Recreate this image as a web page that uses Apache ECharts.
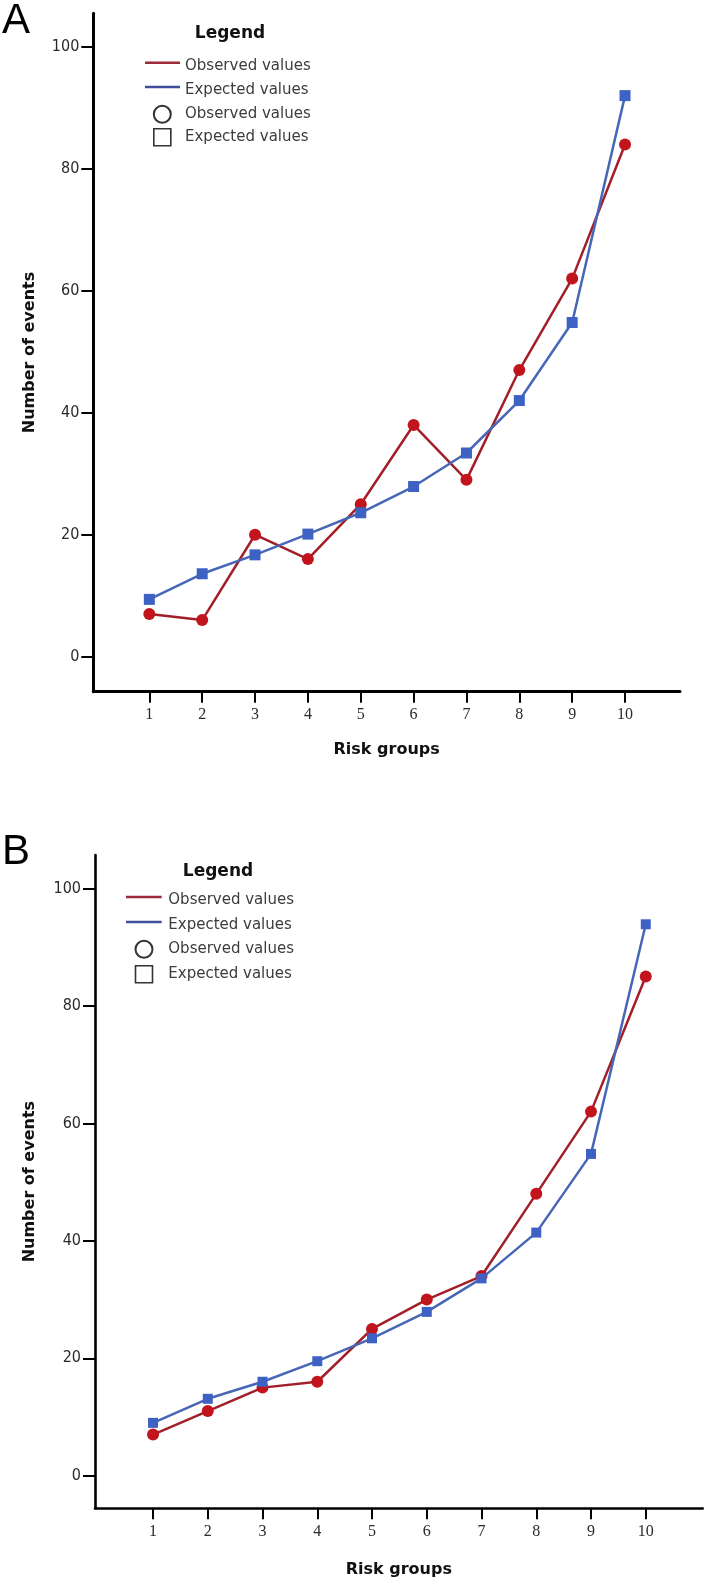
<!DOCTYPE html>
<html>
<head>
<meta charset="utf-8">
<script src="https://cdn.jsdelivr.net/npm/echarts@6/dist/echarts.min.js"></script>
<style>
html,body{margin:0;padding:0;background:#fff;}
#chart{width:714px;height:1588px;}
</style>
</head>
<body>
<div id="chart"></div>
<script>
const categories = [1, 2, 3, 4, 5, 6, 7, 8, 9, 10];
const observedA = [7, 6, 20, 16, 25, 38, 29, 47, 62, 84];
const expectedA = [9.4, 13.6, 16.7, 20.1, 23.6, 27.9, 33.4, 42, 54.8, 92];
const observedB = [7, 11, 15, 16, 25, 30, 34, 48, 62, 85];
const expectedB = [9, 13.1, 16, 19.5, 23.4, 27.9, 33.6, 41.4, 54.8, 93.9];
const yTicks = [0, 20, 40, 60, 80, 100];
const legendLabels = ['Observed values', 'Expected values', 'Observed values', 'Expected values'];

const RED_LINE = '#a21f2a', RED_MARK = '#c1141d';
const BLUE_LINE = '#4767b6', BLUE_MARK = '#3e62c3';
const LEG_RED = '#9b2b38', LEG_BLUE = '#3f4f9c';

const chart = echarts.init(document.getElementById('chart'), null, {renderer: 'canvas'});

function pairs(vals) { return categories.map((c, i) => [c, vals[i]]); }

function xAxisDef(gi, nameGap, lw) {
  return {
    type: 'value', gridIndex: gi, min: -0.06, max: 11.04,
    name: 'Risk groups', nameLocation: 'middle', nameGap: nameGap,
    nameTextStyle: {fontFamily: 'DejaVu Sans', fontWeight: 'bold', fontSize: 16, color: '#111'},
    axisLine: {show: true, onZero: false, lineStyle: {color: '#000', width: lw}},
    axisTick: {show: true, length: 11, customValues: categories, lineStyle: {color: '#000', width: 2}},
    axisLabel: {customValues: categories, margin: 15, fontFamily: 'Liberation Serif', fontSize: 16, color: '#2a2a2a'},
    splitLine: {show: false}
  };
}
function yAxisDef(gi, min, max, nameGap, lw) {
  return {
    type: 'value', gridIndex: gi, min: min, max: max,
    name: 'Number of events', nameLocation: 'middle', nameGap: nameGap,
    nameTextStyle: {fontFamily: 'DejaVu Sans', fontWeight: 'bold', fontSize: 16, color: '#111'},
    axisLine: {show: true, onZero: false, lineStyle: {color: '#000', width: lw}},
    axisTick: {show: true, length: 12, customValues: yTicks, lineStyle: {color: '#000', width: 2}},
    axisLabel: {customValues: yTicks, margin: 14, fontFamily: '"Liberation Sans Narrow", "DejaVu Sans Condensed", sans-serif', fontSize: 16, color: '#2a2a2a'},
    splitLine: {show: false}
  };
}
function seriesDef(gi, name, vals, lineColor, markColor, symbol, size) {
  return {
    type: 'line', name: name, xAxisIndex: gi, yAxisIndex: gi,
    data: pairs(vals), symbol: symbol, symbolSize: size, showSymbol: true,
    lineStyle: {color: lineColor, width: 2.5},
    itemStyle: {color: markColor, borderWidth: 0},
    emphasis: {disabled: true}, z: gi * 10 + (symbol === 'rect' ? 3 : 2)
  };
}

function legendGraphics(titleX, titleY, lineX0, lineX1, textX, rows, symX) {
  const g = [];
  g.push({type: 'text', x: titleX, y: titleY, style: {text: 'Legend', fontFamily: 'DejaVu Sans', fontWeight: 'bold', fontSize: 17, fill: '#111', align: 'center', verticalAlign: 'middle'}});
  g.push({type: 'line', shape: {x1: lineX0, y1: rows[0] - 3, x2: lineX1, y2: rows[0] - 3}, style: {stroke: LEG_RED, lineWidth: 2.5}});
  g.push({type: 'line', shape: {x1: lineX0, y1: rows[1] - 3, x2: lineX1, y2: rows[1] - 3}, style: {stroke: LEG_BLUE, lineWidth: 2.5}});
  g.push({type: 'circle', shape: {cx: symX, cy: rows[2], r: 8.5}, style: {fill: 'none', stroke: '#333', lineWidth: 2}});
  g.push({type: 'rect', shape: {x: symX - 8.5, y: rows[3] - 8.5, width: 17, height: 17}, style: {fill: 'none', stroke: '#333', lineWidth: 1.6}});
  legendLabels.forEach((t, i) => {
    g.push({type: 'text', x: textX, y: rows[i], style: {text: t, fontFamily: 'DejaVu Sans', fontSize: 15, fill: '#3c3c3c', align: 'left', verticalAlign: 'middle'}});
  });
  return g;
}

const graphics = [
  {type: 'text', x: 2, y: 0, style: {text: 'A', fontFamily: 'Liberation Sans', fontSize: 42, lineHeight: 42, fill: '#000', verticalAlign: 'top'}},
  {type: 'text', x: 2, y: 831, style: {text: 'B', fontFamily: 'Liberation Sans', fontSize: 42, lineHeight: 42, fill: '#000', verticalAlign: 'top'}}
].concat(
  legendGraphics(230, 34, 145, 180, 185, [65.7, 90, 114.3, 137.3], 162.3),
  legendGraphics(218, 871.7, 126, 161.7, 168.3, [900, 925, 949.3, 974.3], 144)
);

chart.setOption({
  animation: false,
  backgroundColor: '#fff',
  grid: [
    {left: 93.3, top: 13.3, width: 586.7, height: 678.4},
    {left: 95, top: 855, width: 607.7, height: 653.3}
  ],
  xAxis: [xAxisDef(0, 50, 3), xAxisDef(1, 54, 2.6)],
  yAxis: [yAxisDef(0, -5.74, 105.5, 55, 3), yAxisDef(1, -5.55, 105.7, 57, 2.6)],
  series: [
    seriesDef(0, 'Observed values', observedA, RED_LINE, RED_MARK, 'circle', 12),
    seriesDef(0, 'Expected values', expectedA, BLUE_LINE, BLUE_MARK, 'rect', 11),
    seriesDef(1, 'Observed values', observedB, RED_LINE, RED_MARK, 'circle', 12),
    seriesDef(1, 'Expected values', expectedB, BLUE_LINE, BLUE_MARK, 'rect', 10)
  ],
  graphic: graphics
});
</script>
</body>
</html>
